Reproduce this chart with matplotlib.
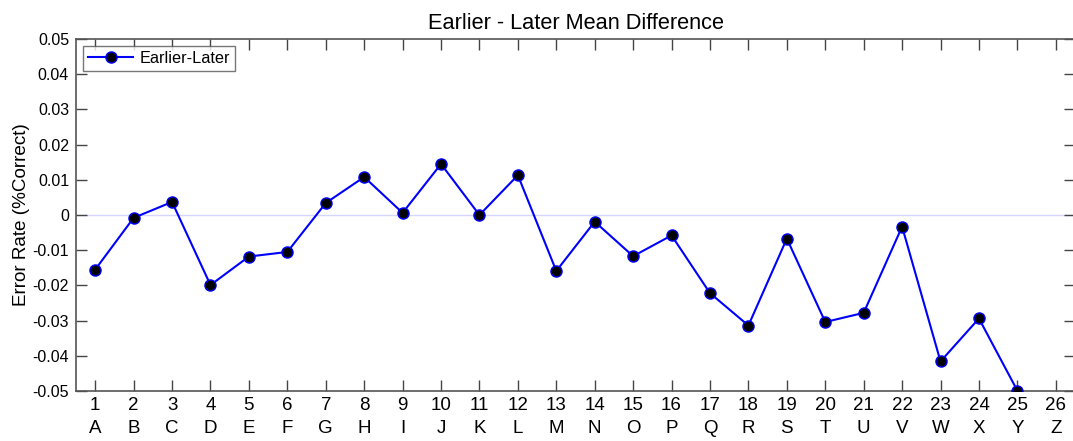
import numpy as np
import matplotlib
matplotlib.use("Agg")
import matplotlib.pyplot as plt

plt.rcParams['font.family'] = ['Liberation Sans', 'DejaVu Sans']

x_numbers = list(range(1, 27))
x_letters = list("ABCDEFGHIJKLMNOPQRSTUVWXYZ")
values = [-0.0155, -0.0008, 0.0037, -0.0199, -0.0118, -0.0105, 0.0034, 0.0108,
          0.0006, 0.0145, 0.0000, 0.0113, -0.0159, -0.0019, -0.0117, -0.0058,
          -0.0222, -0.0314, -0.0067, -0.0304, -0.0278, -0.0033, -0.0416, -0.0294,
          -0.0499, np.nan]
yticks = [-0.05, -0.04, -0.03, -0.02, -0.01, 0, 0.01, 0.02, 0.03, 0.04, 0.05]
ytick_labels = ["-0.05", "-0.04", "-0.03", "-0.02", "-0.01", "0",
                "0.01", "0.02", "0.03", "0.04", "0.05"]

fig = plt.figure(figsize=(10.73, 4.41), dpi=100)
ax = fig.add_axes([76/1073, 1-391/441, (1075-76)/1073, (391-39)/441])

ax.axhline(0, color='#d6d6ff', lw=1.0, zorder=1)
ax.plot(x_numbers, values, '-o', color='#0000ff', lw=1.5,
        markerfacecolor='black', markeredgecolor='#0000ff', markeredgewidth=1.0,
        markersize=8, label='Earlier-Later', zorder=3)

ax.set_xlim(0.5, 26.5)
ax.set_ylim(-0.05, 0.05)
ax.set_xticks(x_numbers)
ax.set_xticklabels([f"{n}\n{l}" for n, l in zip(x_numbers, x_letters)],
                   fontsize=13.5, linespacing=1.5)
ax.set_yticks(yticks)
ax.set_yticklabels(ytick_labels, fontsize=11.5)
ax.tick_params(direction='in', length=8, width=1, color='#444444',
               top=True, right=True, pad=5)
ax.tick_params(axis='x', pad=4)
for s in ax.spines.values():
    s.set_color('#555555')
    s.set_linewidth(1.2)

ax.set_ylabel('Error Rate (%Correct)', fontsize=13.6, labelpad=2)
ax.set_title('Earlier - Later Mean Difference', fontsize=15.7, pad=7)

leg = ax.legend(loc='upper left', fontsize=11.7, frameon=True, fancybox=False,
                borderpad=0.3, handlelength=2.8, handletextpad=0.4,
                borderaxespad=0, bbox_to_anchor=(7/999, 1-7/352))
leg.get_frame().set_edgecolor('#555555')
leg.get_frame().set_linewidth(1.0)

fig.savefig('out.png', dpi=100)
